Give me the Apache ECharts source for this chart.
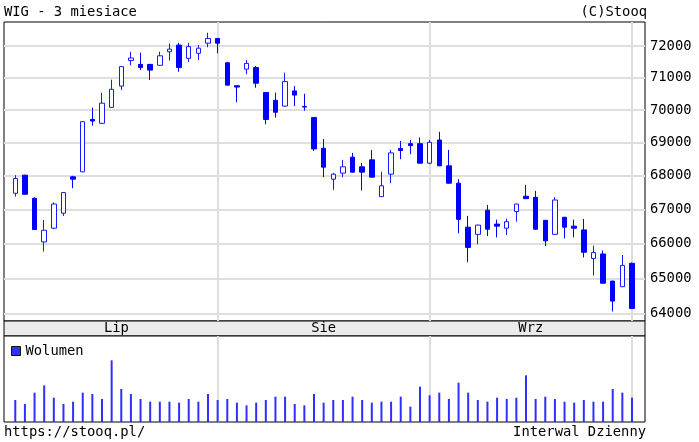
<!DOCTYPE html>
<html><head><meta charset="utf-8">
<script src="https://cdn.jsdelivr.net/npm/echarts@6/dist/echarts.min.js"></script>
<style>html,body{margin:0;padding:0;background:#fff}#c{width:699px;height:442px}</style>
</head><body><div id="c"></div>
<script>
// ---- data (WIG, daily, last 3 months) ----
const openP  = [67480,68020,67330,66050,66450,66890,67970,68120,69710,69590,70080,70740,71540,71420,71420,71390,71820,72030,71610,71770,72090,72240,71470,70750,71270,71320,70540,70300,70120,70590,70110,69770,68830,67900,68080,68560,68270,68480,67380,68050,68820,68970,68970,68380,69080,68300,67780,66480,66270,66980,66570,66450,66940,67390,67360,66680,66270,66770,66510,66400,65570,65700,64920,64760,65430];
const closeP = [67920,67450,66410,66390,67160,67500,67900,69640,69660,70210,70640,71350,71620,71320,71240,71690,71900,71320,71980,71930,72240,72090,70770,70710,71450,70830,69710,69930,70880,70460,70090,68810,68260,68050,68270,68110,68110,67960,67700,68690,68760,68910,68380,69010,68300,67780,66710,65890,66540,66420,66510,66640,67160,67320,66420,66080,67280,66480,66450,65750,65740,64860,64350,65370,64140];
const lowP   = [67380,67440,66400,65770,66420,66810,67630,68110,69520,69580,70070,70620,71390,71240,70930,71380,71540,71190,71500,71560,71960,71770,70760,70240,71110,70690,69560,69770,70110,70120,69980,68750,67960,67580,67960,68100,67560,67950,67370,67780,68500,68650,68370,68350,68290,67770,66300,65460,65980,66220,66180,66250,66640,67310,66410,65930,66260,66150,66180,65600,65080,64850,64060,64750,64130];
const highP  = [68020,68030,67360,66690,67210,67510,68000,69650,70070,70530,70940,71360,71820,71790,71430,71820,72080,72100,72100,72030,72420,72250,71500,70760,71560,71370,70550,70540,71160,70740,70500,69780,69110,68090,68480,68690,68390,68780,68120,68780,69050,69080,69160,69080,69330,68780,67900,66810,66550,67130,66700,66730,67170,67730,67550,66690,67360,66780,66700,66720,65940,65800,64930,65670,65450];
const volume = [66,54,88,110,73,54,61,88,84,69,185,99,84,69,61,61,61,58,69,61,84,66,69,58,50,58,66,76,76,54,50,84,58,66,66,76,66,58,61,61,76,46,106,80,88,69,118,88,66,61,73,69,73,140,69,76,69,61,58,66,61,61,99,88,73];
const monthNames  = ['Lip','Sie','Wrz'];
const monthStarts = [0,21,43,64];          // index of first session of each month (last = next month)
const priceTicks  = [64000,65000,66000,67000,68000,69000,70000,71000,72000];

// ---- derived structures for the library ----
const FONT = 'DejaVu Sans Mono';
const FS = 13.8;
const idx = openP.map((_, i) => i);
const candles = idx.map(i => [i, openP[i], closeP[i], lowP[i], highP[i]]);
const vols = idx.map(i => [i, volume[i]]);
const monthLines = monthStarts.slice(1);
const labelPos = monthNames.map((_, k) => (monthStarts[k] + monthStarts[k + 1]) / 2);

const X_MIN = -1.17, X_MAX = 65.35;
const Y_MIN = 63789, Y_MAX = 72765;
const GL = 4, GW = 641;
const txt = {fontFamily: FONT, fontSize: FS, fontWeight: 'normal', color: '#000'};
const gridLine = {color: '#dedede', width: 2, type: 'solid'};

const tickAxis = (grid, pos) => ({
  gridIndex: grid, type: 'value', position: pos, min: X_MIN, max: X_MAX,
  axisLine: {show: false, onZero: false}, axisLabel: {show: false}, splitLine: {show: false},
  axisTick: {show: true, customValues: monthLines, inside: true, length: 4, lineStyle: {color: '#000', width: 1}}
});

const option = {
  animation: false,
  textStyle: {fontFamily: FONT},
  title: [
    {text: 'WIG - 3 miesiace', left: 4, top: 5, padding: 0, textStyle: txt},
    {text: '(C)Stooq', right: 52, top: 5, padding: 0, textStyle: txt},
    {text: 'https://stooq.pl/', left: 4, top: 425, padding: 0, textStyle: txt},
    {text: 'Interwal Dzienny', right: 53, top: 425, padding: 0, textStyle: txt}
  ],
  legend: {
    data: ['Wolumen'], left: 11, top: 344, padding: 0, itemWidth: 9, itemHeight: 9,
    selectedMode: false, icon: 'rect', itemGap: 0,
    itemStyle: {borderColor: '#111', borderWidth: 1},
    textStyle: {fontFamily: FONT, fontSize: FS, color: '#000'}
  },
  grid: [
    {left: GL, top: 22, width: GW, height: 299, show: true, borderColor: '#000', borderWidth: 1, backgroundColor: '#fff'},
    {left: GL, top: 321, width: GW, height: 15, show: true, borderColor: '#000', borderWidth: 1, backgroundColor: '#ebebeb'},
    {left: GL, top: 336, width: GW, height: 86, show: true, borderColor: '#000', borderWidth: 1, backgroundColor: '#fff'}
  ],
  xAxis: [
    tickAxis(0, 'bottom'),
    tickAxis(0, 'top'),
    {
      gridIndex: 1, type: 'value', min: X_MIN, max: X_MAX,
      axisLine: {show: false, onZero: false}, axisTick: {show: false}, splitLine: {show: false},
      axisLabel: {show: true, customValues: labelPos, inside: true, margin: 7.5, verticalAlign: 'middle',
        fontFamily: FONT, fontSize: FS, color: '#000',
        formatter: v => monthNames[labelPos.indexOf(v)] || ''}
    },
    tickAxis(2, 'top')
  ],
  yAxis: [
    {gridIndex: 0, type: 'log', min: Y_MIN, max: Y_MAX, position: 'right',
      axisLine: {show: false, onZero: false}, axisLabel: {show: false}, splitLine: {show: false},
      axisTick: {show: true, customValues: priceTicks, inside: true, length: 4, lineStyle: {color: '#000', width: 1}}},
    {gridIndex: 1, type: 'value', min: 0, max: 1, show: false},
    {gridIndex: 2, type: 'value', min: 0, max: 258, axisLine: {show: false, onZero: false}, axisLabel: {show: false}, axisTick: {show: false}, splitLine: {show: false}}
  ],
  series: [
    {
      type: 'line', xAxisIndex: 0, yAxisIndex: 0, data: [], z: 1, silent: true,
      markLine: {
        silent: true, symbol: 'none', z: 1, lineStyle: gridLine,
        data: [
          ...priceTicks.map(v => ({yAxis: v, label: {show: true, position: 'end', distance: 5, formatter: String(v), fontFamily: FONT, fontSize: FS, color: '#000'}})),
          ...monthLines.map(m => ({xAxis: m, label: {show: false}}))
        ]
      }
    },
    {
      type: 'candlestick', xAxisIndex: 0, yAxisIndex: 0, data: candles,
      encode: {x: 0, y: [1, 2, 3, 4]}, barWidth: 5, clip: false, z: 3,
      itemStyle: {color: '#ffffff', color0: '#0000ff', borderColor: '#1a1aff', borderColor0: '#0000ff', borderWidth: 1}
    },
    {
      type: 'bar', name: 'Wolumen', xAxisIndex: 3, yAxisIndex: 2, data: vols,
      barWidth: 2, z: 3, itemStyle: {color: '#2f2fff'},
      markLine: {silent: true, symbol: 'none', z: 1, lineStyle: gridLine, label: {show: false},
        data: monthLines.map(m => ({xAxis: m}))}
    }
  ]
};
const chart = echarts.init(document.getElementById('c'), null, {renderer: 'canvas'});
chart.setOption(option);
</script></body></html>
